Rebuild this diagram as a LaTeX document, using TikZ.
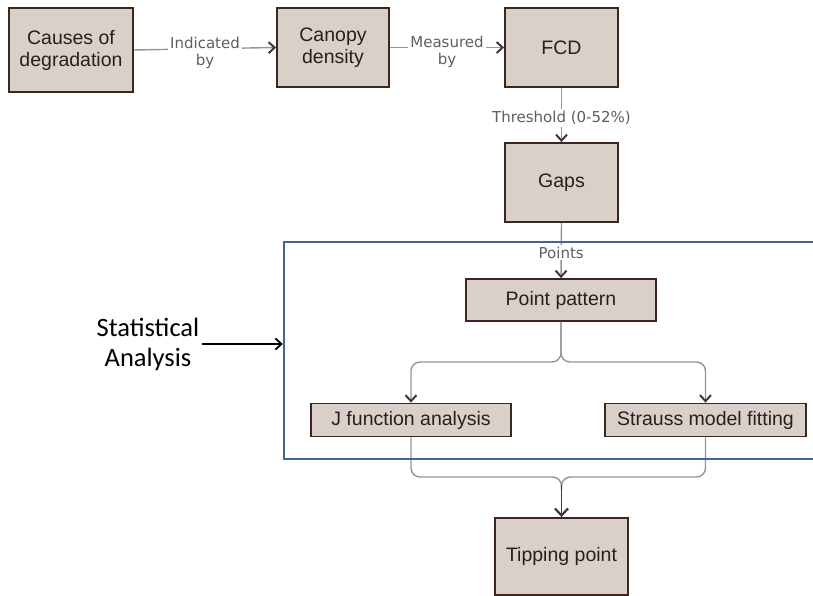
\documentclass[tikz,border=0pt]{standalone}
\usepackage{fontspec}
\setmainfont{Liberation Sans}
\newfontfamily\lblfont{DejaVu Sans}
\newfontfamily\notefont{Carlito}
\usetikzlibrary{arrows.meta, positioning, calc}
\definecolor{boxfill}{RGB}{216,208,201}
\definecolor{boxline}{RGB}{60,38,30}
\definecolor{linegray}{RGB}{150,148,148}
\definecolor{tipc}{RGB}{72,50,62}
\definecolor{framec}{RGB}{62,102,152}
\definecolor{txtc}{RGB}{40,32,32}
\definecolor{lblc}{RGB}{95,95,95}

\begin{document}
\begin{tikzpicture}[x=1pt, y=-1pt,
  blk/.style={draw=boxline, line width=1.8pt, fill=boxfill, text=txtc,
              font=\fontsize{19.5}{22}\selectfont, align=center, inner sep=0pt},
  lbl/.style={font=\lblfont\fontsize{15}{17}\selectfont, text=lblc,
              fill=white, align=center, inner sep=2pt},
  arr/.style={draw=linegray, line width=1.4pt,
              -{Straight Barb[length=6pt, width=11pt, line width=2pt, color=tipc]}},
  ln/.style={draw=linegray, line width=1.4pt},
  frm/.style={draw=framec, line width=2.4pt, minimum width=546pt,
              minimum height=217pt, inner sep=0pt},
  note/.style={font=\notefont\fontsize{26.5}{30}\selectfont, align=center,
               text=black, inner sep=3pt},
]
\clip (0,0) rectangle (813,596);

% ---- Top row ---------------------------------------------------------------
\node[blk, minimum width=124pt, minimum height=84pt] (causes) at (71,50)
  {Causes of\\degradation};
\node[blk, minimum width=112pt, minimum height=79pt] (canopy) at (333,47.5)
  {Canopy\\density};
\node[blk, minimum width=113pt, minimum height=79pt] (fcd) at (561.5,47.5)
  {FCD};
\draw[arr] (causes.east) -- node[lbl, yshift=-4pt]{Indicated\\by} (canopy.west);
\draw[arr] (canopy.east) -- node[lbl, yshift=-4pt]{Measured\\by} (fcd.west);

% ---- Gaps ------------------------------------------------------------------
\node[blk, minimum width=113pt, minimum height=79pt] (gaps) at (561.5,182.5)
  {Gaps};
\draw[arr] (fcd.south) -- node[lbl, yshift=-3pt]{Threshold (0-52\%)} (gaps.north);

% ---- Statistical analysis --------------------------------------------------
\node[blk, minimum width=190pt, minimum height=42pt] (pattern) at (561,300)
  {Point pattern};
\draw[arr] (gaps.south) -- node[lbl, yshift=-2pt]{Points} (pattern.north);

\node[blk, minimum width=200pt, minimum height=33pt] (jfun) at (411,420)
  {J function analysis};
\node[blk, minimum width=201pt, minimum height=33pt] (strauss) at (705.5,420)
  {Strauss model fitting};

\coordinate (split) at (561,362);
\draw[arr, rounded corners=9pt] (pattern.south) -- (split) -| (jfun.north);
\draw[arr, rounded corners=9pt] (pattern.south) -- (split) -| (strauss.north);

% ---- Tipping point ---------------------------------------------------------
\node[blk, minimum width=133pt, minimum height=77pt] (tip) at (561.5,556.5)
  {Tipping point};
\coordinate (merge) at (561.5,477);
\draw[ln, rounded corners=9pt] (jfun.south) |- (merge) -- ++(0,12);
\draw[ln, rounded corners=9pt] (strauss.south) |- (merge) -- ++(0,12);
\draw[draw=tipc, line width=1.9pt,
      -{Straight Barb[length=7pt, width=13pt, line width=2.2pt]}]
  ($(merge)+(0,8)$) -- (tip.north);

% ---- Frame and side label --------------------------------------------------
\node[frm] (stat) at (557,350.5) {};
\node[note] (statlbl) at (148,344) {Statistical\\Analysis};
\draw[line width=1.3pt, -{Straight Barb[length=6pt, width=11pt, line width=1.8pt]}]
  (statlbl.east) -- (statlbl.east -| stat.west);

\end{tikzpicture}
\end{document}
